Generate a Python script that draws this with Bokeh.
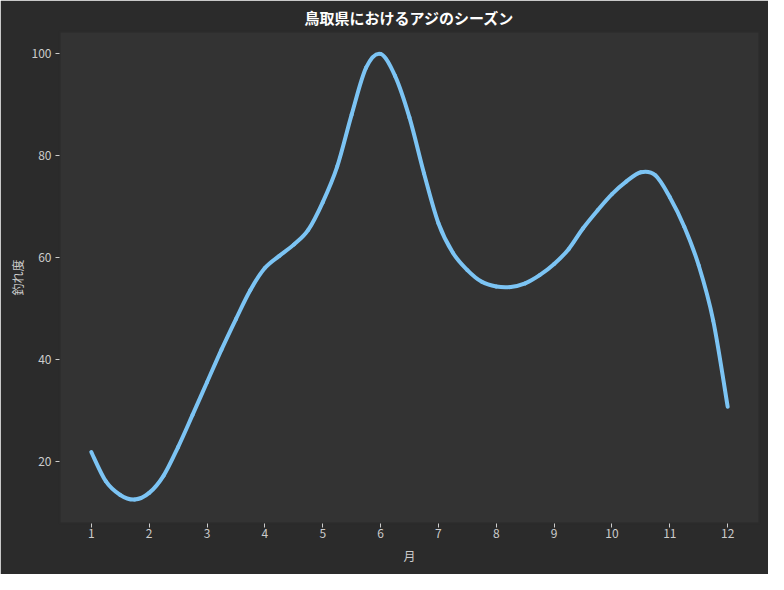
from bokeh.plotting import figure
from bokeh.models import Range1d, FixedTicker, BoxAnnotation
from bokeh.embed import file_html
from bokeh.resources import INLINE

# Values (month, catch score), every quarter month
months = [1.0, 1.25, 1.5, 1.75, 2.0, 2.25, 2.5, 2.75, 3.0, 3.25, 3.5, 3.75,
          4.0, 4.25, 4.5, 4.75, 5.0, 5.25, 5.5, 5.75, 6.0, 6.25,
          6.5, 6.75, 7.0, 7.25, 7.5, 7.75, 8.0, 8.25, 8.5, 8.75, 9.0, 9.25,
          9.5, 9.75, 10.0, 10.25, 10.5, 10.75, 11.0, 11.25, 11.5, 11.75, 12.0]
score = [21.9, 16.2, 13.5, 12.6, 13.9, 17.3, 22.9, 29.2, 35.6, 42.0, 48.0, 53.7,
         58.0, 60.4, 62.6, 65.5, 70.9, 77.9, 88.1, 97.3, 100.0, 95.7,
         87.5, 76.6, 66.8, 61.0, 57.6, 55.3, 54.4, 54.3, 55.0, 56.6, 58.8, 61.7,
         65.8, 69.3, 72.5, 75.0, 76.8, 76.2, 71.9, 66.1, 58.5, 47.7, 30.8]
x_ticks = [1, 2, 3, 4, 5, 6, 7, 8, 9, 10, 11, 12]
y_ticks = [20, 40, 60, 80, 100]

FONT = "Noto Sans CJK JP"
TXT = "#cccccc"
OUTER = "#2b2b2b"

p = figure(width=768, height=574, output_backend="svg", toolbar_location=None,
           x_range=Range1d(0.45, 12.55), y_range=Range1d(7.9, 104.4),
           title="鳥取県におけるアジのシーズン",
           min_border_left=59, min_border_right=9, min_border_top=31, min_border_bottom=51)

p.background_fill_color = "#333333"
p.border_fill_color = OUTER
# cover the seam between frame and border with the outer colour
p.outline_line_color = OUTER
p.outline_line_width = 2
p.outline_line_alpha = 1.0

p.title.text_color = "#ffffff"
p.title.text_font = FONT
p.title.text_font_size = "15px"
p.title.text_font_style = "bold"
p.title.align = "center"
p.title.standoff = 8

p.xgrid.grid_line_color = None
p.ygrid.grid_line_color = None

p.xaxis.ticker = FixedTicker(ticks=x_ticks)
p.yaxis.ticker = FixedTicker(ticks=y_ticks)
p.xaxis.axis_label = "月"
p.yaxis.axis_label = "釣れ度"

for ax in (p.xaxis[0], p.yaxis[0]):
    ax.axis_line_color = None
    ax.major_tick_line_color = TXT
    ax.major_tick_out = 4
    ax.major_tick_in = 0
    ax.minor_tick_line_color = None
    ax.major_label_text_color = TXT
    ax.major_label_text_font = FONT
    ax.major_label_text_font_size = "12px"
    ax.axis_label_text_color = TXT
    ax.axis_label_text_font = FONT
    ax.axis_label_text_font_size = "12px"
    ax.axis_label_text_font_style = "normal"
p.xaxis[0].major_label_standoff = 1
p.xaxis[0].axis_label_standoff = 6
p.yaxis[0].major_label_standoff = 4
p.yaxis[0].axis_label_standoff = 3

# Smooth rendering of the read points: Catmull-Rom segments drawn as Bezier curves
n = len(months)
x0, y0, x1, y1, cx0, cy0, cx1, cy1 = [], [], [], [], [], [], [], []
for i in range(n - 1):
    a = max(i - 1, 0)
    d = min(i + 2, n - 1)
    x0.append(months[i]); y0.append(score[i])
    x1.append(months[i + 1]); y1.append(score[i + 1])
    cx0.append(months[i] + (months[i + 1] - months[a]) / 6.0)
    cy0.append(score[i] + (score[i + 1] - score[a]) / 6.0)
    cx1.append(months[i + 1] - (months[d] - months[i]) / 6.0)
    cy1.append(score[i + 1] - (score[d] - score[i]) / 6.0)

p.bezier(x0=x0, y0=y0, x1=x1, y1=y1, cx0=cx0, cy0=cy0, cx1=cx1, cy1=cy1,
         line_color="#7cc4f4", line_width=4, line_cap="round")

open("out.html", "w").write(file_html(p, INLINE))
